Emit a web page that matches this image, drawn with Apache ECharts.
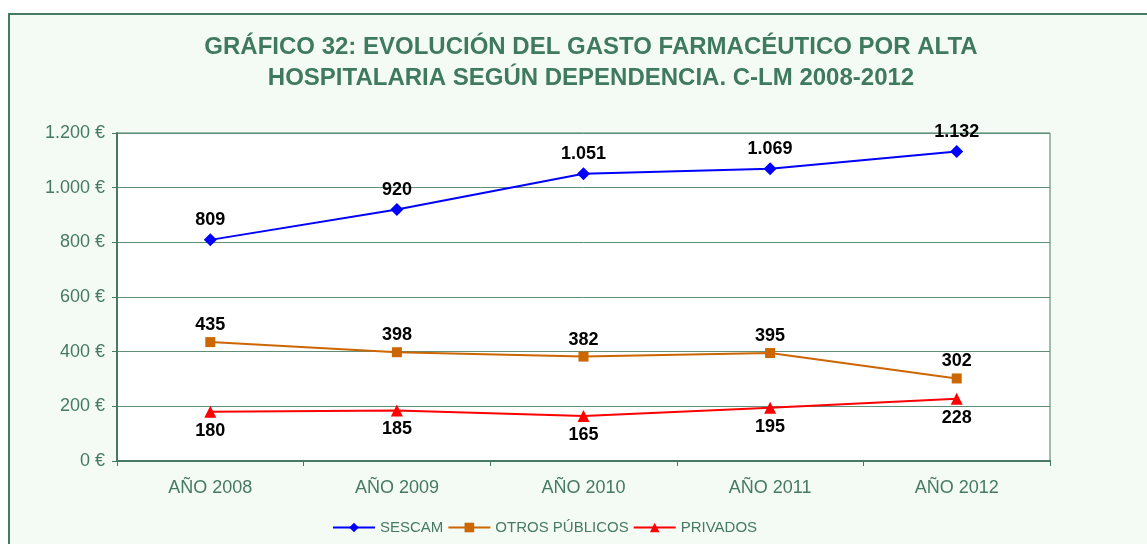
<!DOCTYPE html>
<html>
<head>
<meta charset="utf-8">
<script src="https://cdn.jsdelivr.net/npm/echarts@6/dist/echarts.min.js"></script>
<style>
  html, body { margin: 0; padding: 0; background: #fff; }
  #chart { width: 1147px; height: 544px; }
</style>
</head>
<body>
<div id="chart"></div>
<script>
const categories = ["AÑO 2008", "AÑO 2009", "AÑO 2010", "AÑO 2011", "AÑO 2012"];
const sescam = [809, 920, 1051, 1069, 1132];
const otrosPublicos = [435, 398, 382, 395, 302];
const privados = [180, 185, 165, 195, 228];

const GREEN = "#467a62";
const FONT = "Liberation Sans, Arial, sans-serif";

// thousands separator with a dot, Spanish style
const fmt = (v) => String(v).replace(/\B(?=(\d{3})+(?!\d))/g, ".");

const chart = echarts.init(document.getElementById("chart"));

const labelStyle = {
  show: true,
  color: "#000",
  fontWeight: "bold",
  fontSize: 18,
  fontFamily: FONT,
  formatter: (p) => fmt(p.value),
};

chart.setOption({
  backgroundColor: "#fff",
  graphic: [{
    type: "rect",
    shape: { x: 9, y: 14, width: 1160, height: 560 },
    style: { fill: "#f4fbf5", stroke: GREEN, lineWidth: 2 },
    silent: true,
    z: -10,
  }],
  title: {
    text: "GRÁFICO 32: EVOLUCIÓN DEL GASTO FARMACÉUTICO POR ALTA\nHOSPITALARIA SEGÚN DEPENDENCIA. C-LM 2008-2012",
    left: 586,
    top: 27,
    textAlign: "center",
    textStyle: {
      color: "#3f7a5e",
      fontSize: 24,
      fontWeight: "bold",
      lineHeight: 31,
      fontFamily: FONT,
    },
  },
  legend: {
    bottom: 4,
    left: 327,
    itemWidth: 42,
    itemHeight: 12,
    itemGap: 4,
    textStyle: { color: GREEN, fontSize: 15, fontFamily: FONT },
    data: ["SESCAM", "OTROS PÚBLICOS", "PRIVADOS"],
  },
  grid: {
    left: 117,
    top: 133,
    right: 97,
    bottom: 83,
    show: true,
    backgroundColor: "#fff",
    borderColor: GREEN,
    borderWidth: 1,
  },
  xAxis: {
    type: "category",
    data: categories,
    axisLine: { lineStyle: { color: GREEN, width: 2 } },
    axisTick: { show: true, inside: false, length: 5, lineStyle: { color: GREEN } },
    axisLabel: { color: GREEN, fontSize: 18, margin: 18, fontFamily: FONT },
  },
  yAxis: {
    type: "value",
    min: 0,
    max: 1200,
    interval: 200,
    axisLine: { show: true, lineStyle: { color: GREEN, width: 2 } },
    axisTick: { show: true, length: 5, lineStyle: { color: GREEN } },
    splitLine: { lineStyle: { color: "#5f8d76", width: 1 } },
    axisLabel: {
      color: GREEN,
      fontSize: 18,
      margin: 12,
      fontFamily: FONT,
      formatter: (v) => fmt(v) + " €",
    },
  },
  series: [
    {
      name: "SESCAM",
      type: "line",
      data: sescam,
      symbol: "diamond",
      symbolSize: 13,
      color: "#0000ff",
      lineStyle: { width: 2 },
      label: { ...labelStyle, position: "top", distance: 4 },
    },
    {
      name: "OTROS PÚBLICOS",
      type: "line",
      data: otrosPublicos,
      symbol: "rect",
      symbolSize: 10,
      color: "#cc6600",
      lineStyle: { width: 2 },
      label: { ...labelStyle, position: "top", distance: 3 },
    },
    {
      name: "PRIVADOS",
      type: "line",
      data: privados,
      symbol: "triangle",
      symbolSize: 12,
      color: "#ff0000",
      lineStyle: { width: 2 },
      label: { ...labelStyle, position: "bottom", distance: 4 },
    },
  ],
});
</script>
</body>
</html>
